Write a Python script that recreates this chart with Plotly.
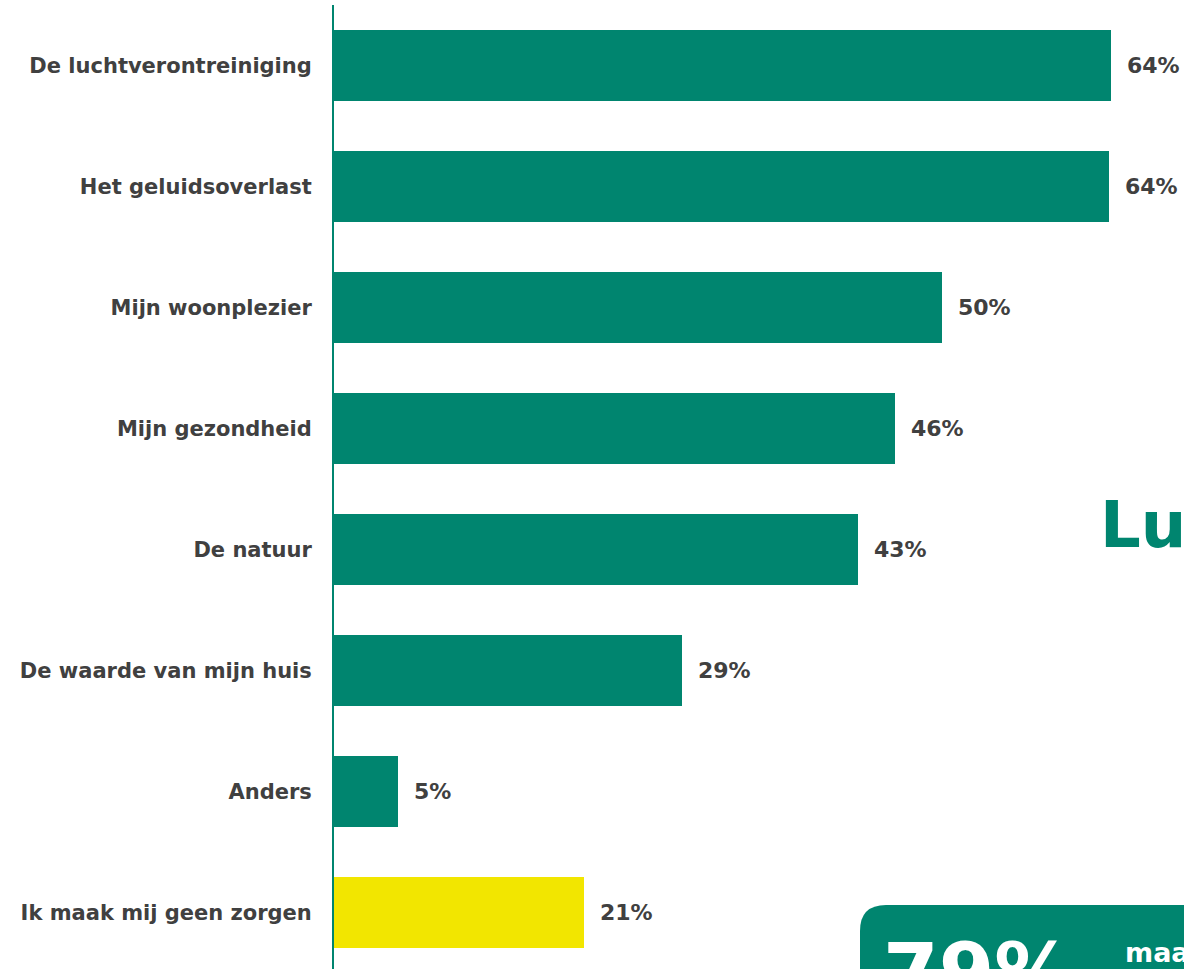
import plotly.graph_objects as go

categories = [
    'De luchtverontreiniging',
    'Het geluidsoverlast',
    'Mijn woonplezier',
    'Mijn gezondheid',
    'De natuur',
    'De waarde van mijn huis',
    'Anders',
    'Ik maak mij geen zorgen',
]
values = [64.0, 63.8, 50.1, 46.2, 43.2, 28.7, 5.3, 20.6]
labels = [f'{round(v)}%' for v in values]

GREEN = '#00856F'
YELLOW = '#F2E600'
TEXT = '#404040'
FONT = 'Verdana, DejaVu Sans, sans-serif'

W, H = 1184, 969
L, T, B = 334, 5, 0
PX_PER_PCT = 12.14
plot_w = W - L
plot_h = H - T - B


def px(x, y):
    # pixel position -> paper coordinates
    return (x - L) / plot_w, (H - B - y) / plot_h


bar_colors = [YELLOW if c.startswith('Ik maak') else GREEN for c in categories]

fig = go.Figure()
fig.add_trace(go.Bar(
    x=values,
    y=list(range(len(categories))),
    orientation='h',
    marker=dict(color=bar_colors, line=dict(width=0)),
    width=0.587,
    hoverinfo='skip',
))

for i, (v, lab) in enumerate(zip(values, labels)):
    fig.add_annotation(
        x=v, y=i, text=f'<b>{lab}</b>', showarrow=False,
        xanchor='left', yanchor='middle', xshift=14,
        font=dict(family=FONT, size=22, color=TEXT),
    )

# decorative elements that are cut off at the edge of the page
lx, ly = px(1098, 525)
fig.add_annotation(
    x=lx, y=ly, xref='paper', yref='paper', text='<b>Luchtverontreiniging</b>',
    showarrow=False, xanchor='left', yanchor='middle',
    font=dict(family=FONT, size=64, color=GREEN),
)

x0, y0 = px(860, 1000)
x1, y1 = px(1300, 905)
xr, yr = px(860 + 26, 905 + 26)
fig.add_shape(
    type='path', xref='paper', yref='paper', layer='above',
    path=(f'M {x0} {y0} L {x0} {yr} Q {x0} {y1} {xr} {y1} '
          f'L {x1} {y1} L {x1} {y0} Z'),
    fillcolor=GREEN, line=dict(width=0),
)
bx, by = px(881, 972)
fig.add_annotation(
    x=bx, y=by, xref='paper', yref='paper', text='<b>79%</b>',
    showarrow=False, xanchor='left', yanchor='middle',
    font=dict(family=FONT, size=80, color='white'),
)
mx, my = px(1123, 952)
fig.add_annotation(
    x=mx, y=my, xref='paper', yref='paper', text='<b>maar</b>',
    showarrow=False, xanchor='left', yanchor='middle',
    font=dict(family=FONT, size=27, color='white'),
)

n_span = plot_h / 121
fig.update_layout(
    width=W, height=H,
    margin=dict(l=L, r=0, t=T, b=B, pad=0),
    paper_bgcolor='white', plot_bgcolor='white',
    showlegend=False,
    bargap=0,
    xaxis=dict(visible=False, range=[0, plot_w / PX_PER_PCT], fixedrange=True),
    yaxis=dict(
        range=[-0.5 + n_span, -0.5],
        tickmode='array',
        tickvals=list(range(len(categories))),
        ticktext=[f'<b>{c}</b>' for c in categories],
        tickfont=dict(family=FONT, size=21, color=TEXT),
        showline=True, linecolor=GREEN, linewidth=2,
        showgrid=False, zeroline=False, ticks='',
        ticklabelstandoff=16,
        fixedrange=True,
    ),
)

fig.write_html(
    'out.html',
    config={'displayModeBar': False},
    post_script="document.body.style.margin='0';document.body.style.overflow='hidden';",
)
